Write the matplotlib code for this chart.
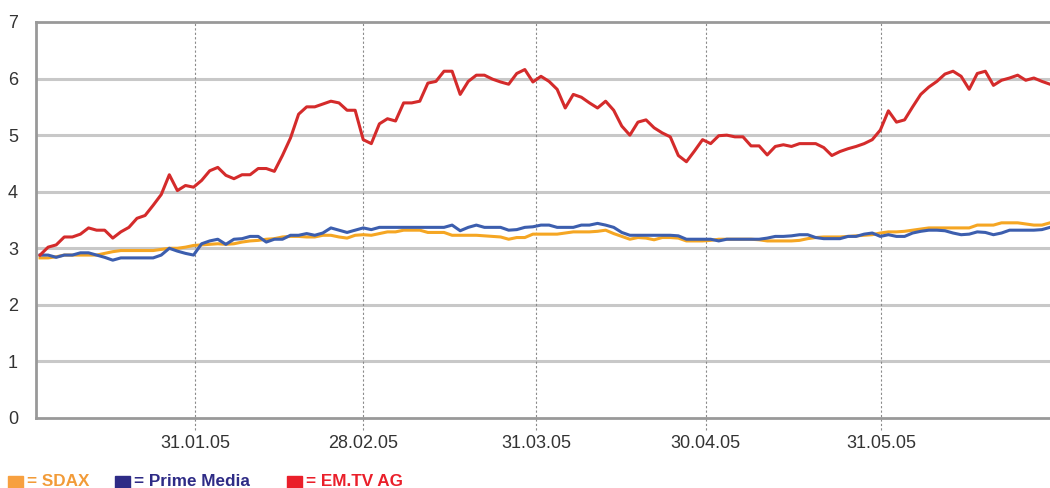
import numpy as np
import matplotlib.pyplot as plt
from matplotlib.patches import Rectangle

# Kurse je Handelstag, 03.01.2005 - 30.06.2005
em_tv = [2.88, 3.02, 3.06, 3.20, 3.20, 3.25, 3.36, 3.32, 3.32, 3.18,
         3.29, 3.37, 3.53, 3.58, 3.76, 3.95, 4.30, 4.02, 4.11, 4.08,
         4.20, 4.37, 4.43, 4.29, 4.23, 4.30, 4.30, 4.41, 4.41, 4.36,
         4.64, 4.95, 5.37, 5.50, 5.50, 5.55, 5.60, 5.57, 5.44, 5.44,
         4.92, 4.85, 5.20, 5.29, 5.25, 5.57, 5.57, 5.60, 5.92, 5.95,
         6.13, 6.13, 5.72, 5.95, 6.06, 6.06, 5.99, 5.94, 5.90, 6.09,
         6.16, 5.94, 6.04, 5.95, 5.81, 5.48, 5.72, 5.67, 5.57, 5.48,
         5.60, 5.44, 5.16, 5.00, 5.23, 5.27, 5.13, 5.04, 4.97, 4.64,
         4.53, 4.72, 4.92, 4.85, 4.99, 5.00, 4.97, 4.97, 4.81, 4.81,
         4.65, 4.80, 4.83, 4.80, 4.85, 4.85, 4.85, 4.78, 4.64, 4.71,
         4.76, 4.80, 4.85, 4.92, 5.09, 5.43, 5.23, 5.27, 5.50, 5.72,
         5.85, 5.95, 6.08, 6.13, 6.04, 5.81, 6.09, 6.13, 5.88, 5.97,
         6.01, 6.06, 5.97, 6.01, 5.95, 5.90]

prime_media = [2.88, 2.88, 2.84, 2.88, 2.88, 2.92, 2.92, 2.88, 2.84, 2.79,
               2.83, 2.83, 2.83, 2.83, 2.83, 2.88, 3.00, 2.95, 2.91, 2.88,
               3.08, 3.13, 3.16, 3.07, 3.16, 3.17, 3.21, 3.21, 3.11, 3.16,
               3.16, 3.23, 3.23, 3.26, 3.23, 3.27, 3.36, 3.32, 3.28, 3.32,
               3.36, 3.33, 3.37, 3.37, 3.37, 3.37, 3.37, 3.37, 3.37, 3.37,
               3.37, 3.41, 3.31, 3.37, 3.41, 3.37, 3.37, 3.37, 3.32, 3.33,
               3.37, 3.38, 3.41, 3.41, 3.37, 3.37, 3.37, 3.41, 3.41, 3.44,
               3.41, 3.37, 3.28, 3.23, 3.23, 3.23, 3.23, 3.23, 3.23, 3.22,
               3.16, 3.16, 3.16, 3.16, 3.13, 3.16, 3.16, 3.16, 3.16, 3.16,
               3.18, 3.21, 3.21, 3.22, 3.24, 3.24, 3.19, 3.17, 3.17, 3.17,
               3.21, 3.21, 3.25, 3.27, 3.21, 3.24, 3.21, 3.21, 3.27, 3.30,
               3.32, 3.32, 3.31, 3.27, 3.24, 3.25, 3.29, 3.28, 3.24, 3.27,
               3.32, 3.32, 3.32, 3.32, 3.33, 3.37]

sdax = [2.83, 2.83, 2.85, 2.88, 2.88, 2.88, 2.88, 2.88, 2.91, 2.94,
        2.96, 2.96, 2.96, 2.96, 2.96, 2.98, 3.00, 3.00, 3.02, 3.05,
        3.06, 3.07, 3.08, 3.07, 3.08, 3.11, 3.13, 3.14, 3.16, 3.17,
        3.20, 3.21, 3.21, 3.20, 3.20, 3.23, 3.23, 3.20, 3.18, 3.23,
        3.24, 3.23, 3.26, 3.29, 3.29, 3.32, 3.32, 3.32, 3.28, 3.28,
        3.28, 3.23, 3.23, 3.23, 3.23, 3.22, 3.21, 3.20, 3.16, 3.19,
        3.19, 3.25, 3.25, 3.25, 3.25, 3.27, 3.29, 3.29, 3.29, 3.30,
        3.32, 3.26, 3.21, 3.16, 3.19, 3.18, 3.15, 3.19, 3.19, 3.18,
        3.13, 3.13, 3.13, 3.14, 3.16, 3.16, 3.16, 3.16, 3.16, 3.15,
        3.13, 3.13, 3.13, 3.13, 3.14, 3.17, 3.19, 3.20, 3.20, 3.20,
        3.21, 3.22, 3.23, 3.24, 3.27, 3.29, 3.29, 3.30, 3.32, 3.34,
        3.36, 3.36, 3.36, 3.36, 3.36, 3.36, 3.41, 3.41, 3.41, 3.45,
        3.45, 3.45, 3.43, 3.41, 3.41, 3.45]

# Monatsenden (Position in Handelstagen)
month_pos = [19.2, 40.0, 61.4, 82.4, 104.1]
month_labels = ['31.01.05', '28.02.05', '31.03.05', '30.04.05', '31.05.05']

plt.rcParams['font.family'] = ['Liberation Sans', 'DejaVu Sans']

fig = plt.figure(figsize=(10.5, 4.88), dpi=100)
ax = fig.add_axes([36 / 1050, 1 - 418 / 488, 1 - 36 / 1050, (418 - 22) / 488])

x = np.arange(len(em_tv))

for v in range(1, 7):
    ax.axhline(v, color='#c8c8c8', lw=2.2, zorder=1)
for p in month_pos:
    ax.axvline(p, ymin=-0.03, ymax=1, color='#8a8a8a', lw=0.8,
               ls=(0, (2, 2)), zorder=1, clip_on=False)

ax.plot(x, sdax, color='#f5a623', lw=2.2, zorder=3)
ax.plot(x, prime_media, color='#3c5eae', lw=2.2, zorder=4)
ax.plot(x, em_tv, color='#d42b2b', lw=2.2, zorder=5)

ax.set_xlim(-0.5, len(em_tv) - 1)
ax.set_ylim(0, 7)
ax.set_yticks(range(8))
ax.set_xticks(month_pos)
ax.set_xticklabels(month_labels)
ax.tick_params(axis='both', length=0, labelsize=13, colors='#333333')
ax.tick_params(axis='y', pad=13)
ax.tick_params(axis='x', pad=12)

for side in ['left', 'top', 'bottom']:
    ax.spines[side].set_color('#999999')
    ax.spines[side].set_linewidth(2)
ax.spines['right'].set_visible(False)

# Legende am unteren Rand
legend = [('= SDAX', '#f7a040', '#f29b38', 8),
          ('= Prime Media', '#2e2b86', '#2e2b86', 115),
          ('= EM.TV AG', '#ea1f2a', '#ea1f2a', 287)]
for text, box_col, text_col, px in legend:
    fig.patches.append(Rectangle((px / 1050, -0.01), 15 / 1050, 12 / 488 + 0.01,
                                 transform=fig.transFigure, color=box_col))
    fig.text((px + 19) / 1050, 2 / 488, text, color=text_col,
             fontsize=12.3, fontweight='bold', va='baseline')

fig.savefig('out.png', dpi=100)
